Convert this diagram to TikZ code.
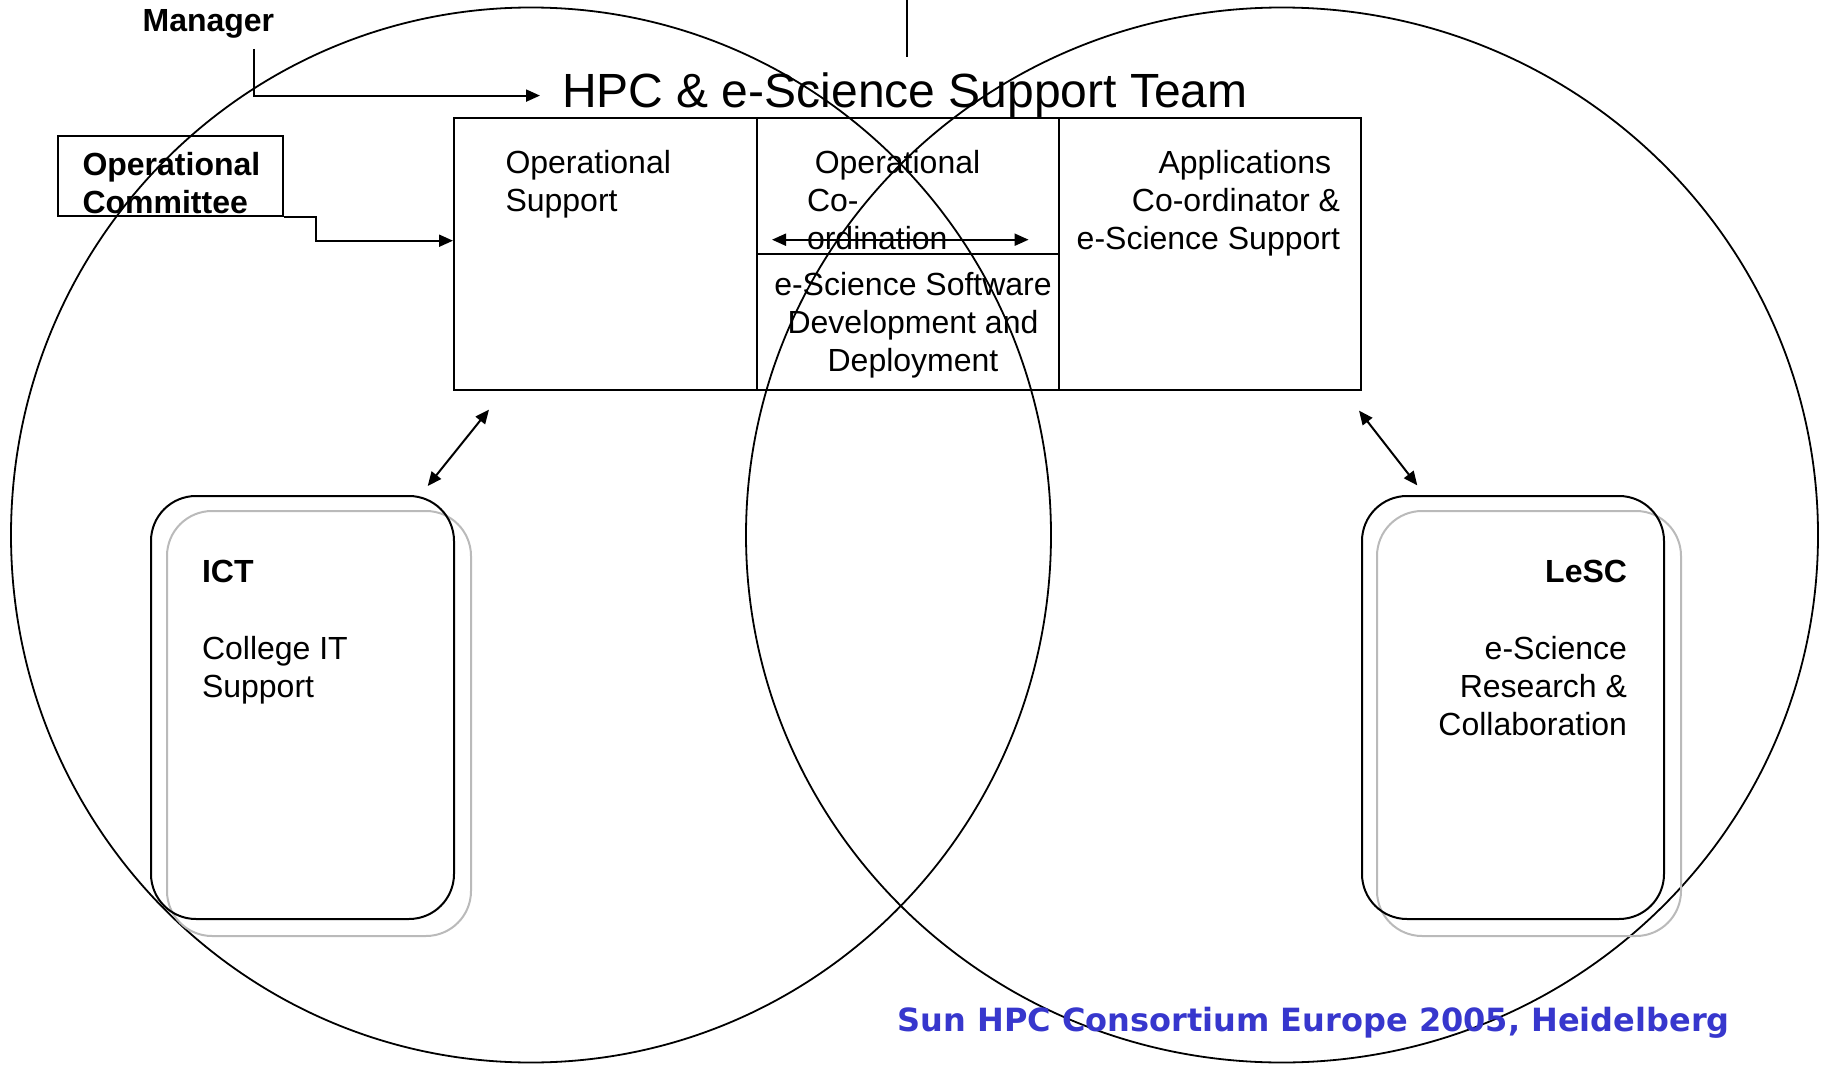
\documentclass[tikz,border=0pt]{standalone}
\usepackage{fontspec}
\setmainfont{Liberation Sans}
\newfontfamily\footfont{DejaVu Sans}
\usepackage{tikz}
\usetikzlibrary{arrows.meta, positioning, calc}
\definecolor{footblue}{RGB}{55,55,205}

\begin{document}
\begin{tikzpicture}[x=0.5pt, y=-0.5pt, line width=1pt,
    box/.style={draw, rectangle, inner sep=0pt},
    unit/.style={draw, rounded corners=22.5pt, minimum width=151.5pt, minimum height=211.5pt},
    shade/.style={draw=black!27, rounded corners=22.5pt, minimum width=152pt, minimum height=212.5pt},
    txt/.style={inner sep=0pt, font=\fontsize{16pt}{19.2pt}\selectfont},
    btxt/.style={inner sep=0pt, font=\fontsize{16pt}{19.2pt}\selectfont\bfseries},
    arr/.style={-{Triangle[length=7pt,width=6pt]}},
    dbl/.style={{Triangle[length=7pt,width=6pt]}-{Triangle[length=7pt,width=6pt]}}]
        \useasboundingbox (0,0) rectangle (1826,1065);

        % Define the two circles
        \draw[line width=0.9pt] (531,535) ellipse [x radius=520, y radius=527.5];
        \draw[line width=0.9pt] (1282,535) ellipse [x radius=536, y radius=527.5];
        \draw (907,0) -- (907,56.7);

        % Define the team boxes
        \node[anchor=base west, inner xsep=10.5pt, inner ysep=0pt,
              font=\fontsize{24pt}{28.8pt}\selectfont] (team) at (540,108) {HPC \& e-Science Support Team};
        \node[box, minimum width=151.5pt, minimum height=136pt] (ops) at (605.5,254) {};
        \node[box, minimum width=151pt, minimum height=68pt] (coord) at (908,186) {};
        \node[box, minimum width=151pt, minimum height=68pt] (dev) at (908,322) {};
        \node[box, minimum width=151pt, minimum height=136pt] (apps) at (1210,254) {};

        \node[txt, align=left, anchor=north west] (opsT) at (504.5,149) {Operational\\Support};
        \node[txt, align=left, anchor=north west] (coordT) at (806,149) {\hspace*{3.9pt}Operational\\Co-\\ordination};
        \node[txt, align=center, anchor=north] (devT) at (913,271) {e-Science Software\\Development and\\Deployment};
        \node[txt, align=right, anchor=north east] (appsT) at (1341,149) {Applications\hspace*{4.45pt}\\Co-ordinator \&\\e-Science Support};

        % Manager and committee
        \node[btxt, anchor=base west] (mgr) at (141.6,32) {Manager};
        \node[box, minimum width=112.5pt, minimum height=40pt] (comm) at (170.5,176) {};
        \node[btxt, align=left, anchor=north west] (commT) at (81.5,151) {Operational\\Committee};

        % Define the partners
        \node[shade] (ictS) at (319,723.5) {};
        \node[unit] (ict) at (302.5,707.5) {};
        \node[shade] (lescS) at (1529,723.5) {};
        \node[unit, minimum width=151pt] (lesc) at (1513,707.5) {};

        \node[txt, align=left, anchor=north west] (ictT) at (201,559) {\textbf{ICT}\\[19.2pt]College IT\\Support};
        \node[txt, align=right, anchor=north east] (lescT) at (1628,559) {\textbf{LeSC}\\[19.2pt]e-Science\\Research \&\\Collaboration};

        % Draw arrows
        \draw[arr] ($(mgr.south)+(45.6,9)$) |- (team.west);
        \draw[arr] (comm.south east) -- ++(31.6,0) |- ($(ops.west)+(0,-13.3)$);
        \draw[dbl] ($(coord.south west)+(16,-15.3)$) -- ($(coord.south east)+(-31.4,-15.3)$);
        \draw[dbl] ($(ops.south west)+(36,18.6)$) -- ($(ict.north east)+(-27.3,-9)$);
        \draw[dbl] ($(apps.south east)+(-3,19.6)$) -- ($(lesc.north west)+(56.3,-9.6)$);

        \node[anchor=base west, inner sep=0pt, text=footblue,
              font=\footfont\bfseries\fontsize{16pt}{19.2pt}\selectfont] (foot) at (896.7,1031) {Sun HPC Consortium Europe 2005, Heidelberg};
    \end{tikzpicture}
\end{document}
